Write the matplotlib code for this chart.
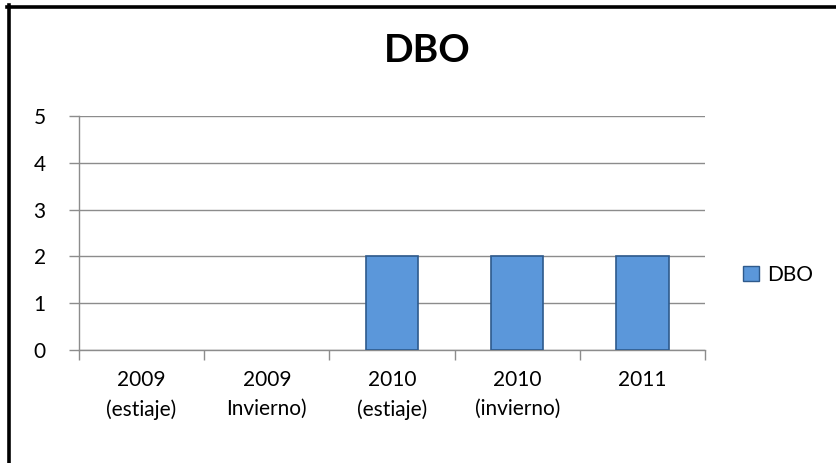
import matplotlib
matplotlib.use("Agg")
import matplotlib.pyplot as plt
from matplotlib.lines import Line2D
from matplotlib.patches import Patch

categories = ["2009\n(estiaje)", "2009\nInvierno)", "2010\n(estiaje)", "2010\n(invierno)", "2011"]
values = [0, 0, 2, 2, 2]
series_name = "DBO"
title = "DBO"
yticks = [0, 1, 2, 3, 4, 5]

plt.rcParams['font.family'] = ['Lato', 'DejaVu Sans']

W, H = 836, 463
fig = plt.figure(figsize=(W / 100, H / 100), dpi=100)
ax = fig.add_axes([79 / W, 1 - 350 / H, (705 - 79) / W, (350 - 116) / H])

x = list(range(len(categories)))
lws = [0 if v == 0 else 1.2 for v in values]
ax.bar(x, values, width=0.42, color="#5B97DA", edgecolor="#2E5A8C", linewidth=lws, zorder=3, label=series_name)

ax.set_xlim(-0.5, len(categories) - 0.5)
ax.set_ylim(0, 5)
ax.set_yticks(yticks)
ax.set_yticklabels([str(v) for v in yticks], fontsize=15)
ax.grid(axis='y', color="#8C8C8C", linewidth=1.0, zorder=0)
ax.set_axisbelow(True)

# category ticks at boundaries
ax.set_xticks([i - 0.5 for i in range(len(categories) + 1)])
ax.set_xticklabels([])
ax.tick_params(axis='x', length=7, color="#8C8C8C", width=1.0, direction='out')
ax.tick_params(axis='y', length=7, color="#8C8C8C", width=1.0, direction='out', pad=17)
for i, lab in enumerate(categories):
    ax.text(i, -0.42, lab, ha='center', va='top', fontsize=15, linespacing=1.6,
            transform=ax.transData)

for s in ['top', 'right']:
    ax.spines[s].set_visible(False)
for s in ['left', 'bottom']:
    ax.spines[s].set_color("#8C8C8C")
    ax.spines[s].set_linewidth(1.0)

fig.text(427 / W, 1 - 50 / H, title, ha='center', va='center', fontsize=28, fontweight='bold')

handle = Patch(facecolor="#5B97DA", edgecolor="#2E5A8C", linewidth=1.0)
fig.legend([handle], [series_name], loc='center left', bbox_to_anchor=(743 / W, 1 - 275 / H),
           frameon=False, fontsize=15, handlelength=0.75, handleheight=0.75, handletextpad=0.4,
           borderaxespad=0, borderpad=0)

# outer border (left and top visible)
fig.add_artist(Line2D([8.5 / W, 8.5 / W], [0, 1 - 5 / H], transform=fig.transFigure, color='black', linewidth=2.6))
fig.add_artist(Line2D([7 / W, 1], [1 - 6.5 / H, 1 - 6.5 / H], transform=fig.transFigure, color='black', linewidth=2.6))

fig.savefig("out.png", dpi=100)
